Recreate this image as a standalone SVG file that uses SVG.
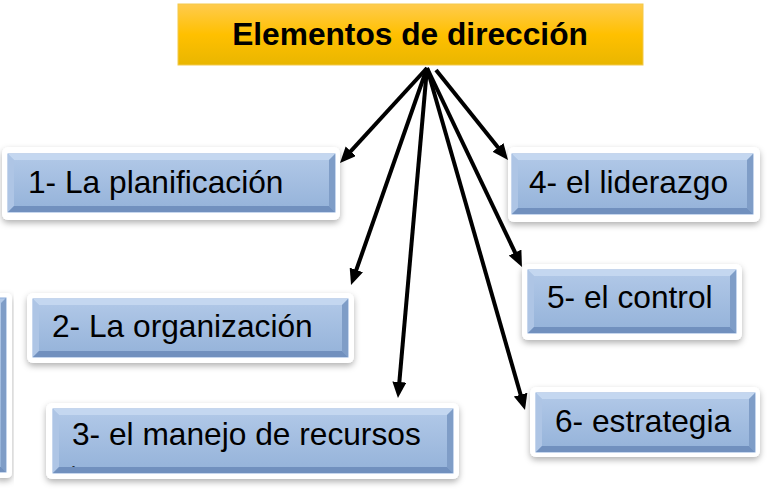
<svg xmlns="http://www.w3.org/2000/svg" width="782" height="490" viewBox="0 0 782 490">
<defs>
<linearGradient id="gold" x1="0" y1="0" x2="0" y2="1">
<stop offset="0" stop-color="#FFCB4E"/><stop offset="0.5" stop-color="#FFC000"/><stop offset="1" stop-color="#E9B600"/>
</linearGradient>
<linearGradient id="face" x1="0" y1="0" x2="0" y2="1">
<stop offset="0" stop-color="#B2C9E8"/><stop offset="1" stop-color="#94B2D9"/>
</linearGradient>
<filter id="sh" x="-10%" y="-20%" width="120%" height="150%">
<feDropShadow dx="0" dy="3" stdDeviation="3" flood-color="#000" flood-opacity="0.3"/>
</filter>
<marker id="ah" markerUnits="userSpaceOnUse" markerWidth="17" markerHeight="15" refX="4" refY="7" orient="auto">
<path d="M0,0 L16,7 L0,14 z" fill="#000"/>
</marker>
</defs>
<style>
.frame{fill:#fff;filter:url(#sh)}
.face{fill:url(#face);stroke:#8DAEDB;stroke-width:1}
.bt{fill:#C4D7F0}.bl{fill:#AEC5E5}.br{fill:#7F9DC7}.bb{fill:#7190BE}
.lbl{font-family:"Liberation Sans",Arial,sans-serif;font-size:31.7px;fill:#000}
.ttl{font-family:"Liberation Sans",Arial,sans-serif;font-size:31.7px;font-weight:bold;fill:#000}
.conn line{stroke:#000;stroke-width:4;fill:none;marker-end:url(#ah)}
</style>

<g id="title">
<rect x="178" y="4" width="465" height="61" fill="url(#gold)" stroke="#F3C94A" stroke-width="1"/>
<text class="ttl" x="410" y="45" text-anchor="middle">Elementos de dirección</text>
</g>

<g id="box0">
<rect class="frame" x="-6" y="293" width="18" height="185" rx="5"/>
<rect class="face" x="-6" y="298" width="12" height="174"/>
<polygon class="br" points="6,298 6,472 1,467 1,303"/>
<polygon class="bb" points="-6,472 6,472 1,467 -6,467"/>
</g>

<g id="box1">
<rect class="frame" x="2" y="147" width="338" height="73" rx="6"/>
<rect class="face" x="8" y="154" width="327" height="58"/>
<polygon class="bt" points="8,154 335,154 329,160 14,160"/>
<polygon class="bl" points="8,154 14,160 14,206 8,212"/>
<polygon class="br" points="335,154 335,212 329,206 329,160"/>
<polygon class="bb" points="8,212 335,212 329,206 14,206"/>
<text class="lbl" x="28" y="193">1- La planificación</text>
</g>

<g id="box2">
<rect class="frame" x="27" y="293" width="327" height="70" rx="6"/>
<rect class="face" x="33" y="299" width="315" height="58"/>
<polygon class="bt" points="33,299 348,299 342,305 39,305"/>
<polygon class="bl" points="33,299 39,305 39,351 33,357"/>
<polygon class="br" points="348,299 348,357 342,351 342,305"/>
<polygon class="bb" points="33,357 348,357 342,351 39,351"/>
<text class="lbl" x="52" y="337">2- La organización</text>
</g>

<g id="box3">
<rect class="frame" x="46" y="403" width="413" height="76" rx="6"/>
<rect class="face" x="53" y="409" width="400" height="64"/>
<polygon class="bt" points="53,409 453,409 447,415 59,415"/>
<polygon class="bl" points="53,409 59,415 59,467 53,473"/>
<polygon class="br" points="453,409 453,473 447,467 447,415"/>
<polygon class="bb" points="53,473 453,473 447,467 59,467"/>
<text class="lbl" x="72" y="445">3- el manejo de recursos</text>
<text x="72" y="469" font-family="Liberation Sans,Arial,sans-serif" font-size="9" fill="#000">-</text>
</g>

<g id="box4">
<rect class="frame" x="508" y="147" width="252" height="75" rx="6"/>
<rect class="face" x="512" y="154" width="241" height="60"/>
<polygon class="bt" points="512,154 753,154 747,160 518,160"/>
<polygon class="bl" points="512,154 518,160 518,208 512,214"/>
<polygon class="br" points="753,154 753,214 747,208 747,160"/>
<polygon class="bb" points="512,214 753,214 747,208 518,208"/>
<text class="lbl" x="529" y="193">4- el liderazgo</text>
</g>

<g id="box5">
<rect class="frame" x="522" y="264" width="220" height="76" rx="6"/>
<rect class="face" x="528" y="270" width="208" height="63"/>
<polygon class="bt" points="528,270 736,270 730,276 534,276"/>
<polygon class="bl" points="528,270 534,276 534,327 528,333"/>
<polygon class="br" points="736,270 736,333 730,327 730,276"/>
<polygon class="bb" points="528,333 736,333 730,327 534,327"/>
<text class="lbl" x="547" y="308">5- el control</text>
</g>

<g id="box6">
<rect class="frame" x="530" y="387" width="230" height="70" rx="6"/>
<rect class="face" x="536" y="393" width="219" height="59"/>
<polygon class="bt" points="536,393 755,393 749,399 542,399"/>
<polygon class="bl" points="536,393 542,399 542,446 536,452"/>
<polygon class="br" points="755,393 755,452 749,446 749,399"/>
<polygon class="bb" points="536,452 755,452 749,446 542,446"/>
<text class="lbl" x="555" y="432">6- estrategia</text>
</g>

<g id="connectors" class="conn">
<line x1="427" y1="68" x2="348.1" y2="154.2"/>
<line x1="427" y1="68" x2="355" y2="273.7"/>
<line x1="427" y1="68" x2="399" y2="386"/>
<line x1="436" y1="70" x2="500.5" y2="150.6"/>
<line x1="427" y1="68" x2="516.8" y2="256.2"/>
<line x1="427" y1="68" x2="521.7" y2="398.5"/>
</g>
</svg>
